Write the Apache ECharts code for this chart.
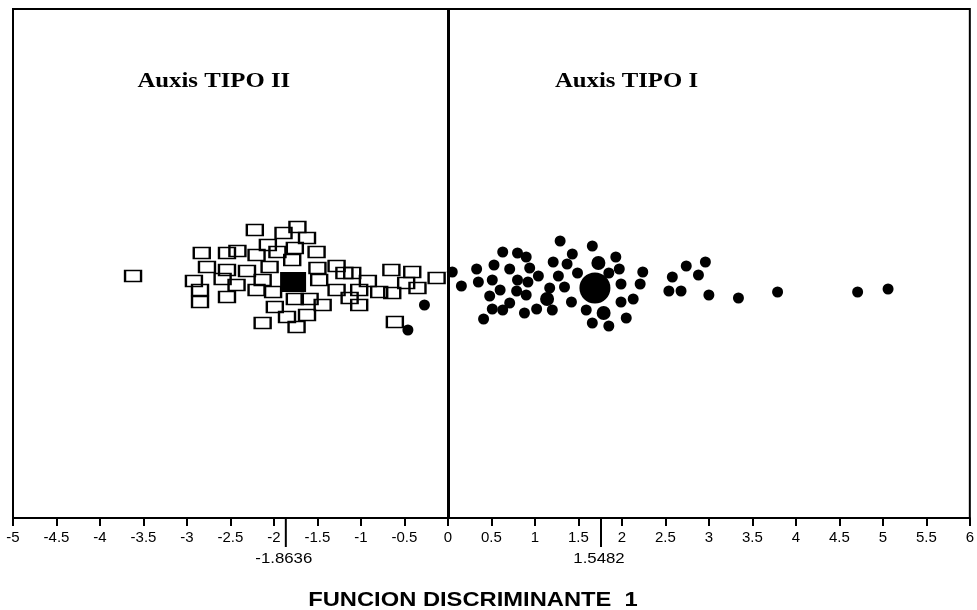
<!DOCTYPE html>
<html>
<head>
<meta charset="utf-8">
<script src="https://cdn.jsdelivr.net/npm/echarts@6/dist/echarts.min.js"></script>
<style>
html,body{margin:0;padding:0;background:#fff;}
#chart{width:977px;height:610px;}
</style>
</head>
<body>
<div id="chart"></div>
<script>
// Discriminant function 1 scores (x) with vertical jitter (y, arbitrary units)
const tipo2X = [-3.62,-2.22,-1.89,-2.83,-2.54,-2.42,-2.20,-2.07,-1.96,-2.05,-2.77,-2.54,-2.31,-2.92,-2.59,-2.43,-2.13,-2.85,-2.20,-2.01,-2.54,-2.85,-1.99,-2.13,-1.85,
  -1.73,-1.62,-1.76,-1.51,-1.79,-1.50,-1.28,-1.10,-1.19,-1.48,-0.92,-0.65,-0.41,-0.13,-1.28,-1.02,-0.79,-0.64,-0.35,-0.48,-1.13,-1.02,-1.44,-1.76,-1.59,-1.62,-1.74,-0.61];
const tipo2Y = [242,288,285,265,265,267,263,273,266,251,251,248,247,237,239,233,238,228,228,226,221,216,211,195,201,
  291,280,270,266,258,250,252,245,245,238,237,248,246,240,228,228,226,225,230,235,220,213,213,219,219,203,191,196];

const tipo1X = [0.05,0.155,0.33,0.35,0.53,0.51,0.63,0.71,0.60,0.48,0.80,0.90,0.94,0.80,1.04,0.92,0.79,0.90,0.71,0.63,0.51,0.41,0.88,1.02,1.20,1.14,1.17,1.21,1.29,1.27,1.34,1.37,1.43,1.49,1.42,1.66,1.73,1.85,1.93,1.97,1.99,1.99,1.79,1.59,1.66,1.85,2.05,2.13,2.24,2.21,2.58,2.74,2.96,2.88,2.54,2.68,3.00,3.34,3.79,4.71,5.06,-0.27,-0.46];
const tipo1Y = [246,232,249,236,253,238,266,249,228,222,265,261,250,238,242,236,227,223,215,208,209,199,205,209,208,219,230,256,277,242,231,254,264,245,216,272,255,245,261,249,234,216,205,208,195,192,200,219,246,234,241,252,256,243,227,227,223,220,226,226,229,213,188];
// multiplicity (overlapping cases drawn larger)
const tipo1N = [1,1,1,1,1,1,1,1,1,1,1,1,1,1,1,1,1,1,1,1,1,1,1,1,1,2,1,1,1,1,1,1,1,1,1,1,2,1,1,1,1,1,2,1,1,1,1,1,1,1,1,1,1,1,1,1,1,1,1,1,1,1,1];

const centroid2 = [-1.78, 236];
const centroid1 = [1.69, 230];
const centroidTicks = [-1.8636, 1.76];
const centroidTickLabels = ['-1.8636', '1.5482'];

const groupLabels = ['Auxis TIPO II', 'Auxis TIPO I'];
const groupLabelX = [-3.57, 1.23];
const axisTitle = 'FUNCION DISCRIMINANTE  1';

const chart = echarts.init(document.getElementById('chart'), null, {renderer:'canvas'});

const squares = tipo2X.map((x,i)=>[x, tipo2Y[i]]);
const circles = tipo1X.map((x,i)=>[x, tipo1Y[i], tipo1N[i]]);

const option = {
  animation:false,
  backgroundColor:'#fff',
  grid:{left:13, right:6, top:9, bottom:92, show:true, borderColor:'#000', borderWidth:2, backgroundColor:'transparent'},
  xAxis:{
    type:'value', min:-5, max:6, interval:0.5,
    axisLine:{show:true, onZero:false, lineStyle:{color:'#000', width:2}},
    axisTick:{show:true, length:8, lineStyle:{color:'#000', width:2}},
    axisLabel:{color:'#000', fontFamily:'Liberation Sans', fontSize:15, margin:12},
    splitLine:{show:false}
  },
  yAxis:{type:'value', min:0, max:509, show:false, splitLine:{show:false}},
  series:[
    {
      type:'scatter', name:'TIPO II', data:squares, symbol:'rect', symbolSize:[16,11],
      itemStyle:{color:'rgba(255,255,255,0)', borderColor:'#000', borderWidth:2, opacity:1},
      z:3,
      markLine:{silent:true, symbol:'none', label:{show:false},
        lineStyle:{color:'#000', width:3, type:'solid'},
        data:[{xAxis:0}]}
    },
    {
      type:'scatter', name:'TIPO I', data:circles, symbol:'circle',
      symbolSize:(v)=> v[2] > 1 ? 14 : 11,
      itemStyle:{color:'#000', opacity:1}, z:4
    },
    {
      type:'scatter', name:'Centroide II', data:[centroid2], symbol:'rect', symbolSize:[26,20],
      itemStyle:{color:'#000', opacity:1}, z:5
    },
    {
      type:'scatter', name:'Centroide I', data:[centroid1], symbol:'circle', symbolSize:31,
      itemStyle:{color:'#000', opacity:1}, z:5
    }
  ]
};
chart.setOption(option);

const gfx = [];
// centroid ticks below the axis, positioned through the axis scale
centroidTicks.forEach((v,i)=>{
  const p = chart.convertToPixel({gridIndex:0}, [v, 0]);
  gfx.push({type:'line', shape:{x1:p[0], y1:p[1], x2:p[0], y2:p[1]+29}, style:{stroke:'#000', lineWidth:2}, z:10});
  gfx.push({type:'text', x:p[0]-2, y:p[1]+33, scaleX:1.12, style:{text:centroidTickLabels[i], fill:'#000', font:'15px "Liberation Sans"', textAlign:'center', textVerticalAlign:'top'}, z:10});
});
// group labels
groupLabels.forEach((t,i)=>{
  const p = chart.convertToPixel({gridIndex:0}, [groupLabelX[i], 436]);
  gfx.push({type:'text', x:p[0], y:p[1], scaleX:1.18, style:{text:t, fill:'#000', font:'bold 21px "Liberation Serif"', textAlign:'left', textVerticalAlign:'middle'}, z:10});
});
// axis title
gfx.push({type:'text', x:473, y:600, scaleX:1.13, style:{text:axisTitle, fill:'#000', font:'bold 21px "Liberation Sans"', textAlign:'center', textVerticalAlign:'middle'}, z:10});
chart.setOption({graphic:gfx});
</script>
</body>
</html>
